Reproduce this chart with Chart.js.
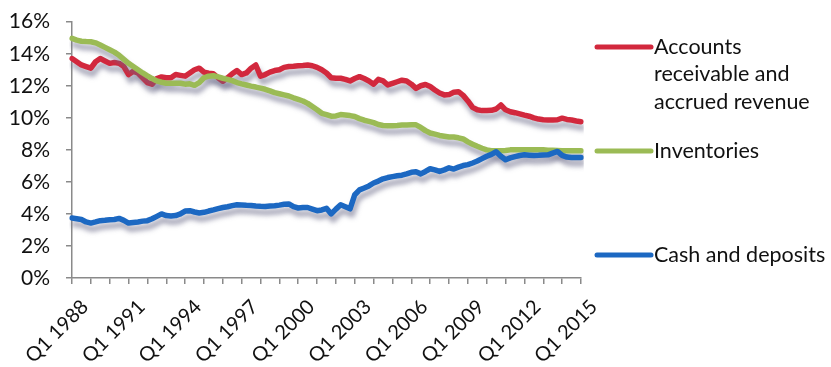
<!DOCTYPE html>
<html>
<head>
<meta charset="utf-8">
<script src="https://cdn.jsdelivr.net/npm/chart.js@4.4.1/dist/chart.umd.min.js"></script>
<style>
  html, body { margin: 0; padding: 0; background: #fff; }
  #wrap { width: 831px; height: 367px; }
</style>
</head>
<body>
<div id="wrap"><canvas id="chart" width="831" height="367"></canvas></div>
<script>
// Quarterly shares, Q1 1988 .. Q1 2015 (per cent)
const firstYear = 1988;
const lastYear = 2015;

const quarters = [];
for (let y = firstYear; y <= lastYear; y++) {
  for (let q = 1; q <= 4; q++) {
    if (y === lastYear && q > 1) break;
    quarters.push(`Q${q} ${y}`);
  }
}

const receivables = [
  13.7, 13.5, 13.3, 13.2, 13.1, 13.5, 13.7, 13.55, 13.4, 13.45, 13.4, 13.2,
  12.7, 12.9, 12.8, 12.5, 12.2, 12.1, 12.45, 12.55, 12.5, 12.5, 12.7, 12.65,
  12.6, 12.8, 13.0, 13.1, 12.85, 12.78, 12.75, 12.5, 12.28, 12.5, 12.75, 12.95,
  12.7, 12.8, 13.1, 13.3, 12.6, 12.7, 12.85, 12.95, 13.0, 13.15, 13.2, 13.22,
  13.25, 13.27, 13.3, 13.25, 13.15, 13.0, 12.8, 12.5, 12.47, 12.47, 12.4, 12.3,
  12.45, 12.57, 12.45, 12.3, 12.1, 12.4, 12.3, 12.05, 12.15, 12.25, 12.35, 12.3,
  12.1, 11.84, 12.0, 12.08, 11.95, 11.74, 11.55, 11.43, 11.45, 11.6, 11.63, 11.4,
  11.05, 10.65, 10.5, 10.45, 10.45, 10.47, 10.55, 10.8, 10.5, 10.38, 10.32, 10.25,
  10.17, 10.1, 10.0, 9.92, 9.88, 9.87, 9.87, 9.88, 9.98, 9.9, 9.86, 9.8,
  9.76,
];

const inventories = [
  14.96, 14.85, 14.78, 14.76, 14.75, 14.68, 14.55, 14.4, 14.25, 14.1, 13.9, 13.65,
  13.4, 13.2, 13.0, 12.8, 12.62, 12.45, 12.3, 12.22, 12.16, 12.16, 12.15, 12.16,
  12.1, 12.12, 12.03, 12.2, 12.5, 12.6, 12.63, 12.55, 12.47, 12.4, 12.32, 12.2,
  12.12, 12.05, 11.98, 11.92, 11.85, 11.78, 11.68, 11.57, 11.5, 11.43, 11.36, 11.25,
  11.15, 11.05, 10.9, 10.7, 10.5, 10.28, 10.2, 10.1, 10.12, 10.2, 10.18, 10.14,
  10.08, 9.95, 9.85, 9.78, 9.7, 9.58, 9.52, 9.51, 9.51, 9.52, 9.55, 9.55,
  9.56, 9.56, 9.4, 9.2, 9.05, 8.98, 8.9, 8.85, 8.8, 8.8, 8.75, 8.68,
  8.5, 8.35, 8.22, 8.1, 8.0, 7.95, 7.94, 7.95, 7.96, 8.0, 8.0, 8.0,
  8.0, 8.0, 8.0, 8.0, 8.0, 7.98, 7.97, 7.96, 7.95, 7.95, 7.95, 7.94,
  7.94,
];

const cash = [
  3.74, 3.7, 3.65, 3.5, 3.43, 3.5, 3.58, 3.6, 3.64, 3.65, 3.72, 3.6,
  3.43, 3.47, 3.5, 3.55, 3.58, 3.7, 3.85, 4.0, 3.9, 3.87, 3.9, 4.0,
  4.18, 4.2, 4.12, 4.06, 4.1, 4.18, 4.25, 4.33, 4.4, 4.45, 4.52, 4.57,
  4.56, 4.54, 4.53, 4.5, 4.48, 4.47, 4.5, 4.51, 4.55, 4.6, 4.62, 4.45,
  4.37, 4.4, 4.4, 4.3, 4.2, 4.25, 4.35, 4.0, 4.3, 4.57, 4.45, 4.32,
  5.2, 5.5, 5.62, 5.75, 5.93, 6.05, 6.19, 6.27, 6.33, 6.38, 6.42, 6.5,
  6.6, 6.63, 6.5, 6.65, 6.82, 6.75, 6.65, 6.75, 6.88, 6.8, 6.92, 7.02,
  7.08, 7.18, 7.3, 7.45, 7.6, 7.72, 7.88, 7.6, 7.38, 7.5, 7.58, 7.65,
  7.69, 7.67, 7.65, 7.66, 7.68, 7.69, 7.8, 7.9, 7.65, 7.55, 7.52, 7.52,
  7.52,
];

const seriesNames = [
  ['Accounts', 'receivable and', 'accrued revenue'],
  ['Inventories'],
  ['Cash and deposits'],
];

const RED = '#d2283d';
const GREEN = '#9bbb55';
const BLUE = '#1c68c2';
const AXIS = '#8a8a8a';
const TEXT = '#111111';
const FONT_FAMILY = 'Lato, "Open Sans", sans-serif';

// Soft drop shadow under every series line
const lineShadow = {
  id: 'lineShadow',
  beforeDatasetDraw(chart) {
    const ctx = chart.ctx;
    ctx.save();
    ctx.shadowColor = 'rgba(105, 105, 135, 0.6)';
    ctx.shadowBlur = 5;
    ctx.shadowOffsetX = 2;
    ctx.shadowOffsetY = 6;
  },
  afterDatasetDraw(chart) {
    chart.ctx.restore();
  },
};

// Legend on the right: a short line swatch followed by (possibly wrapped) text
const sideLegend = {
  id: 'sideLegend',
  afterDraw(chart, _args, opts) {
    const ctx = chart.ctx;
    ctx.save();
    ctx.font = opts.font;
    ctx.textBaseline = 'middle';
    ctx.textAlign = 'left';
    opts.items.forEach((item) => {
      ctx.beginPath();
      ctx.moveTo(opts.lineStart, item.y);
      ctx.lineTo(opts.lineEnd, item.y);
      ctx.lineWidth = 5;
      ctx.lineCap = 'round';
      ctx.strokeStyle = item.color;
      ctx.stroke();
      ctx.fillStyle = TEXT;
      item.text.forEach((t, k) => ctx.fillText(t, opts.textX, item.y + k * opts.lineHeight));
    });
    ctx.restore();
  },
};

const ctx = document.getElementById('chart').getContext('2d');
new Chart(ctx, {
  type: 'line',
  plugins: [lineShadow, sideLegend],
  data: {
    labels: quarters,
    datasets: [
      { label: seriesNames[0].join(' '), data: receivables, borderColor: RED, backgroundColor: RED, order: 2 },
      { label: seriesNames[1].join(' '), data: inventories, borderColor: GREEN, backgroundColor: GREEN, order: 1 },
      { label: seriesNames[2].join(' '), data: cash, borderColor: BLUE, backgroundColor: BLUE, order: 0 },
    ],
  },
  options: {
    responsive: false,
    animation: false,
    devicePixelRatio: 1,
    layout: { padding: { left: 0, right: 250, top: 21.7, bottom: 0 } },
    elements: {
      point: { radius: 0 },
      line: { borderWidth: 5.5, tension: 0, borderCapStyle: 'round', borderJoinStyle: 'round', fill: false },
    },
    plugins: {
      legend: { display: false },
      tooltip: { enabled: false },
      sideLegend: {
        font: `21.5px ${FONT_FAMILY}`,
        lineStart: 597,
        lineEnd: 651,
        textX: 654,
        lineHeight: 27.5,
        items: [
          { text: seriesNames[0], color: RED, y: 47 },
          { text: seriesNames[1], color: GREEN, y: 151 },
          { text: seriesNames[2], color: BLUE, y: 255 },
        ],
      },
    },
    scales: {
      x: {
        offset: false,
        border: { color: AXIS, width: 1.5 },
        grid: {
          drawOnChartArea: false,
          tickLength: 6,
          lineWidth: 1.5,
          color: (c) => (c.index % 4 === 0 ? AXIS : 'rgba(0,0,0,0)'),
        },
        ticks: {
          autoSkip: false,
          minRotation: 45,
          maxRotation: 45,
          padding: 11,
          labelOffset: 13,
          color: TEXT,
          font: { family: FONT_FAMILY, size: 20 },
          callback(value, index) {
            return index % 12 === 0 ? this.getLabelForValue(value) : '';
          },
        },
        afterFit: (scale) => {
          scale.height = 89;
          scale.paddingLeft = 0;
          scale.paddingRight = 0;
        },
      },
      y: {
        min: 0,
        max: 16,
        border: { color: AXIS, width: 1.5 },
        grid: { drawOnChartArea: false, tickLength: 6, lineWidth: 1.5, color: AXIS },
        ticks: {
          stepSize: 2,
          padding: 16,
          color: TEXT,
          font: { family: FONT_FAMILY, size: 21 },
          callback: (v) => `${v}%`,
        },
        afterFit: (scale) => {
          scale.width = 72;
          scale.paddingTop = 0;
          scale.paddingBottom = 0;
        },
      },
    },
  },
});
</script>
</body>
</html>
